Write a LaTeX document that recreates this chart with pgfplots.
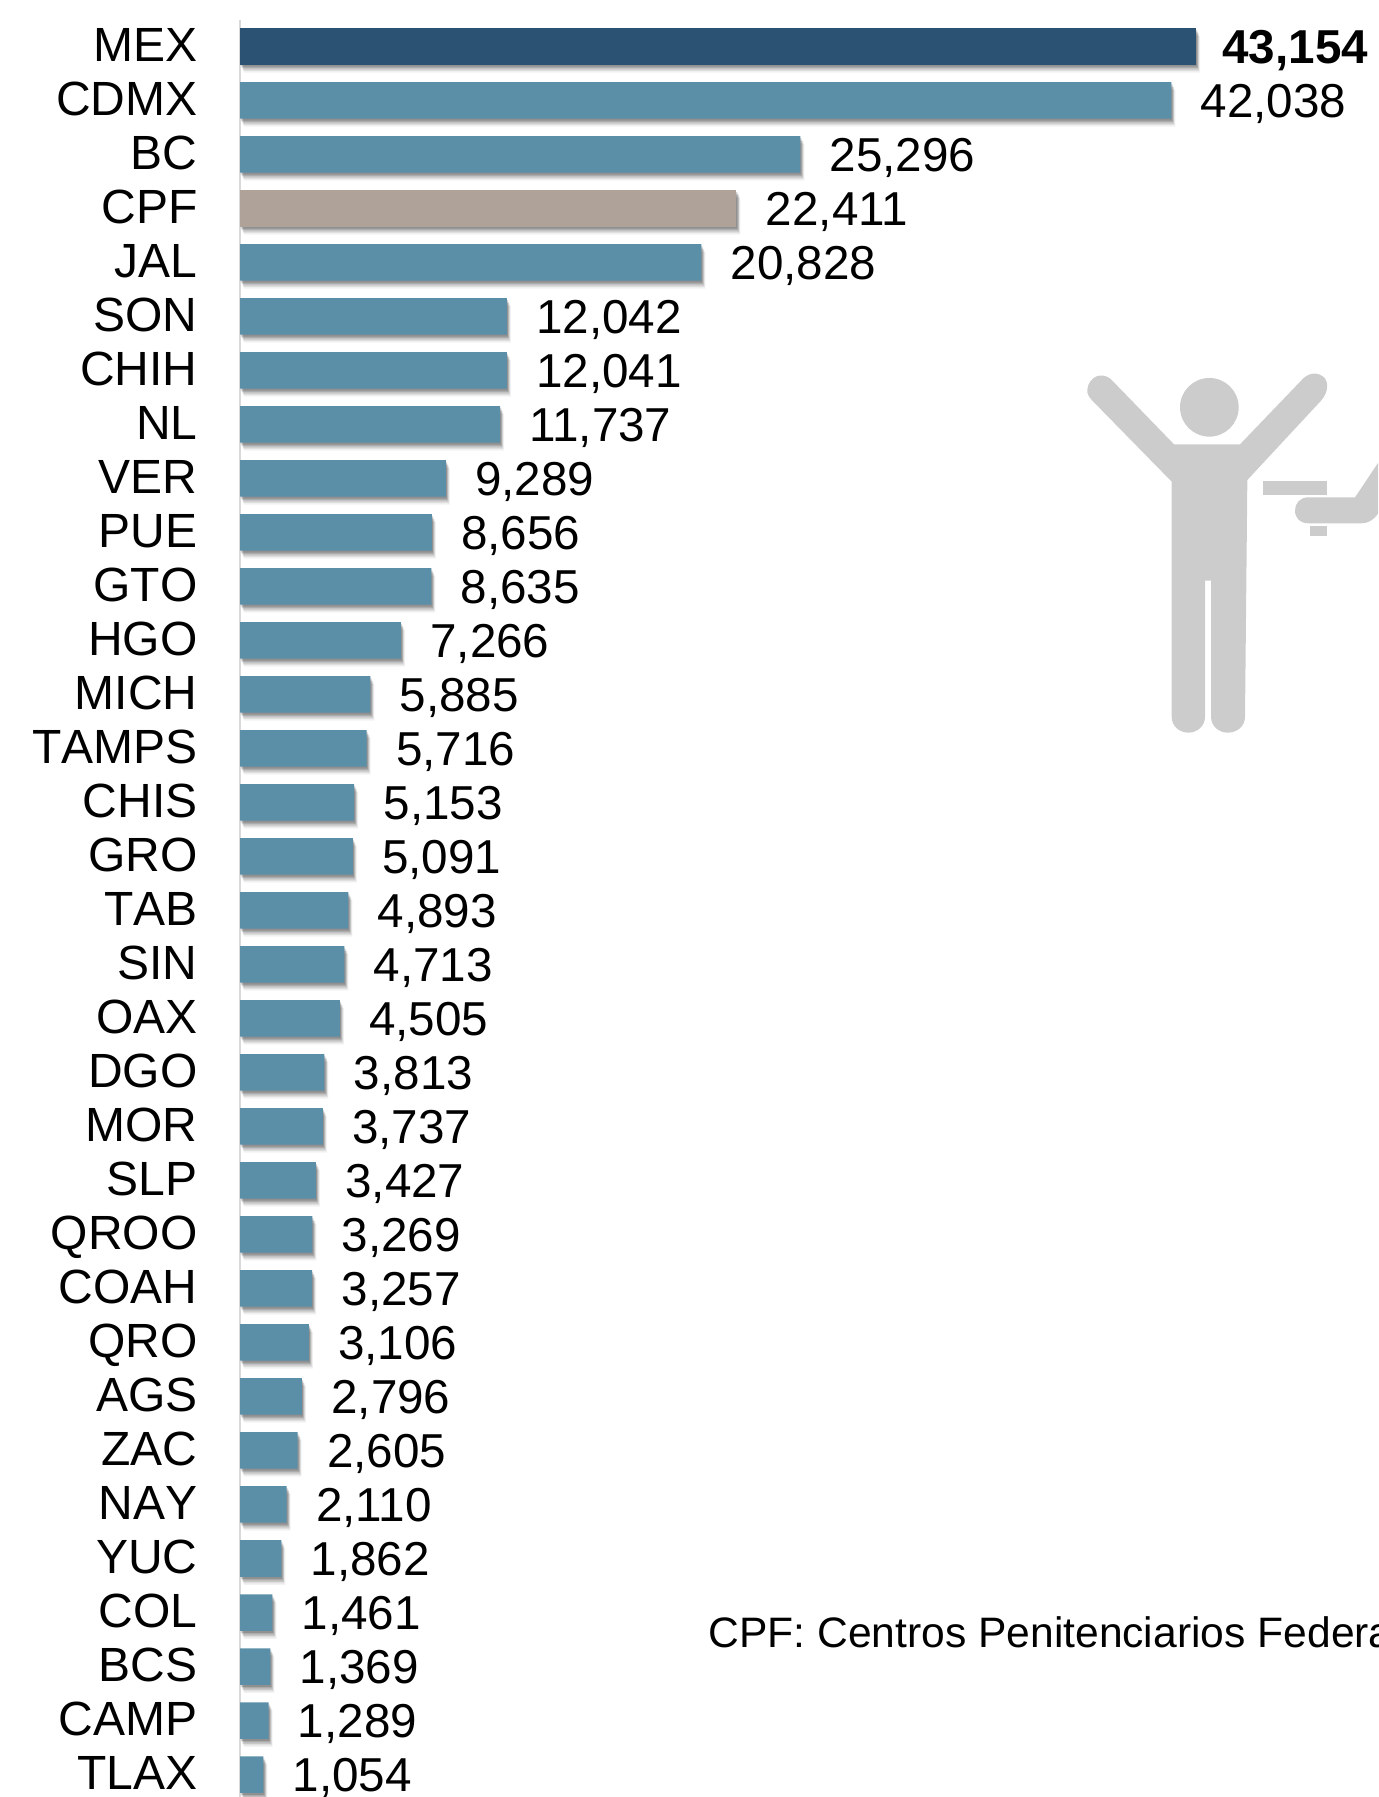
\documentclass[border=0pt]{standalone}
\usepackage{pgfplots}
\usepackage{pgfplotstable}
\usepackage{fontspec}
\setmainfont{Liberation Sans}
\newfontfamily\labfont[Kerning=Off]{Liberation Sans}
\pgfplotsset{compat=1.18}
\definecolor{navy}{HTML}{2B5273}
\definecolor{teal2}{HTML}{5B8FA8}
\definecolor{taupe}{HTML}{AFA298}
\definecolor{icon}{HTML}{CCCCCC}
\pgfplotstableread{
v y
43154 0
42038 1
25296 2
22411 3
20828 4
12042 5
12041 6
11737 7
9289 8
8656 9
8635 10
7266 11
5885 12
5716 13
5153 14
5091 15
4893 16
4713 17
4505 18
3813 19
3737 20
3427 21
3269 22
3257 23
3106 24
2796 25
2605 26
2110 27
1862 28
1461 29
1369 30
1289 31
1054 32
}\alldata
\pgfplotstableread{
v y
43154 0
}\mexdata
\pgfplotstableread{
v y
22411 3
}\cpfdata
\pgfplotstableread{
v y
42038 1
25296 2
20828 4
12042 5
12041 6
11737 7
9289 8
8656 9
8635 10
7266 11
5885 12
5716 13
5153 14
5091 15
4893 16
4713 17
4505 18
3813 19
3737 20
3427 21
3269 22
3257 23
3106 24
2796 25
2605 26
2110 27
1862 28
1461 29
1369 30
1289 31
1054 32
}\tealdata
\begin{document}
\begin{tikzpicture}
\path[use as bounding box] (0,0) rectangle (689pt,898.5pt);
\clip (0,0) rectangle (689pt,898.5pt);
% icon
\begin{scope}[shift={(525pt,728.5pt)},x=0.16667pt,y=-0.16667pt]
\fill[icon] (478,202) circle [radius=88];
\fill[icon, rounded corners=0pt]
  (372,313) -- (185,120) .. controls (165,100) and (130,100) .. (115,135)
  .. controls (108,155) and (112,165) .. (125,180)
  -- (365,425) -- (365,1130)
  .. controls (365,1160) and (390,1178) .. (415,1178)
  .. controls (440,1178) and (465,1160) .. (465,1130)
  -- (465,722) -- (483,722) -- (483,1130)
  .. controls (483,1160) and (508,1178) .. (533,1178)
  .. controls (560,1178) and (585,1160) .. (585,1130)
  -- (592,420) -- (815,180)
  .. controls (835,155) and (835,130) .. (825,115)
  .. controls (805,95) and (780,97) .. (760,115)
  -- (570,313) -- cycle;
\fill[icon] (640,423) rectangle (832,466);
\fill[icon] (780,558) rectangle (832,588);
\fill[icon] (775,472) -- (915,472) -- (1000,345) -- (1060,420) -- (985,520)
  .. controls (970,540) and (955,550) .. (935,550) -- (775,550)
  .. controls (750,550) and (735,535) .. (735,511)
  .. controls (735,490) and (750,472) .. (775,472) -- cycle;
\end{scope}
\begin{axis}[
  at={(120pt,0pt)}, anchor=south west,
  scale only axis, width=569pt, height=888.5pt,
  xbar, bar width=18.25pt, bar shift=0pt,
  xmin=0, xmax=51370,
  ymin=-0.49, ymax=32.417, y dir=reverse,
  clip=false,
  axis x line=none, axis y line=left,
  axis line style={-, draw=black!15, line width=1pt},
  xtick=\empty,
  ytick={0,...,32},
  yticklabels={MEX,CDMX,BC,CPF,JAL,SON,CHIH,NL,VER,PUE,GTO,HGO,MICH,TAMPS,CHIS,GRO,TAB,SIN,OAX,DGO,MOR,SLP,QROO,COAH,QRO,AGS,ZAC,NAY,YUC,COL,BCS,CAMP,TLAX},
  major tick length=0pt,
  y tick style={draw=none},
  yticklabel style={font=\labfont\fontsize{24}{24}\selectfont, anchor=east, inner sep=0pt, text height=17pt, text depth=0pt, xshift=-21pt, yshift=0.8pt},
  /pgf/number format/assume math mode=true,
  /pgf/number format/1000 sep={,},
  /pgf/number format/precision=0,
  point meta=x,
  every node near coord/.style={font=\fontsize{23.8}{24}\selectfont, anchor=west, inner sep=0pt, text height=17pt, text depth=0pt, black},
]
% soft shadow layers
\addplot[draw=none, fill=black, fill opacity=0.05, bar shift=-4pt, xshift=2pt] table[x=v,y=y] {\alldata};
\addplot[draw=none, fill=black, fill opacity=0.08, bar shift=-3.25pt, xshift=1.6pt] table[x=v,y=y] {\alldata};
\addplot[draw=none, fill=black, fill opacity=0.11, bar shift=-2.5pt, xshift=1.25pt] table[x=v,y=y] {\alldata};
\addplot[draw=none, fill=black, fill opacity=0.14, bar shift=-1.75pt, xshift=0.9pt] table[x=v,y=y] {\alldata};
\addplot[draw=none, fill=black, fill opacity=0.16, bar shift=-1pt, xshift=0.5pt] table[x=v,y=y] {\alldata};
% bars
\addplot[draw=none, fill=teal2, nodes near coords, every node near coord/.append style={xshift=14.5pt}] table[x=v,y=y] {\tealdata};
\addplot[draw=none, fill=taupe, nodes near coords, every node near coord/.append style={xshift=14.5pt}] table[x=v,y=y] {\cpfdata};
\addplot[draw=none, fill=navy, nodes near coords, every node near coord/.append style={xshift=13pt, font=\fontsize{23.8}{24}\selectfont\bfseries}] table[x=v,y=y] {\mexdata};
\end{axis}
\node[anchor=base west, inner sep=0pt, font=\fontsize{21.3}{24}\selectfont] at (354pt,74.5pt) {CPF: Centros Penitenciarios Federales};
\end{tikzpicture}
\end{document}
